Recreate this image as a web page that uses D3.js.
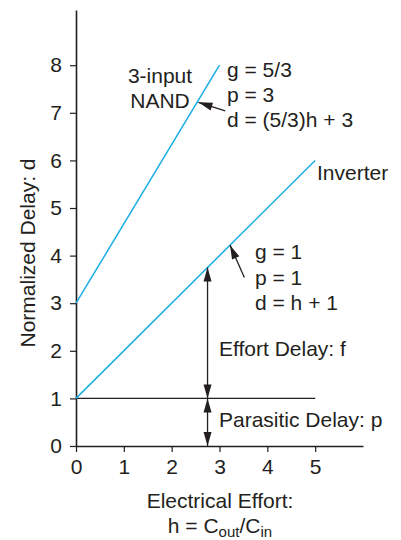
<!DOCTYPE html>
<html><head><meta charset="utf-8">
<script src="https://cdn.jsdelivr.net/npm/d3@7"></script>
<style>
html,body{margin:0;padding:0;background:#fff;}
svg{display:block;}
text{font-family:"Liberation Sans",Arial,Helvetica,sans-serif;fill:#231f20;}
</style></head>
<body>
<svg id="c" width="401" height="540"></svg>
<script>
// ---- data ----
const hTicks = [0, 1, 2, 3, 4, 5];
const dTicks = [0, 1, 2, 3, 4, 5, 6, 7, 8];
const nandH = [0, 3];
const nandD = [3, 8];
const invH = [0, 5];
const invD = [1, 6];
const parasiticH = [0, 5];
const parasiticD = [1, 1];
const arrowH = 2.75;          // where effort/parasitic arrows are drawn
const invG = 1, invP = 1;     // d = g*h + p
const nandLabels = ["g = 5/3", "p = 3", "d = (5/3)h + 3"];
const invLabels = ["g = 1", "p = 1", "d = h + 1"];

const svg = d3.select("#c");
const x = d3.scaleLinear().domain([0, 6]).range([76, 363]);
const y = d3.scaleLinear().domain([0, 9.16]).range([446, 10]);
const FS = 21;
const ink = "#231f20";
const blue = "#1aaee6";

// arrow marker
const defs = svg.append("defs");
defs.append("marker").attr("id", "ah").attr("viewBox", "-15 -5 16 10")
  .attr("refX", 0).attr("refY", 0).attr("markerWidth", 16).attr("markerHeight", 10)
  .attr("markerUnits", "userSpaceOnUse").attr("orient", "auto-start-reverse")
  .append("path").attr("d", "M0,0 L-14,-4 L-14,4 Z").attr("fill", ink);

// axes
const xAxis = d3.axisBottom(x).tickValues(hTicks).tickFormat(d3.format("d"))
  .tickSize(6).tickPadding(7).tickSizeOuter(0);
const yAxis = d3.axisLeft(y).tickValues(dTicks).tickFormat(d3.format("d"))
  .tickSize(6).tickPadding(8).tickSizeOuter(0);
const gx = svg.append("g").attr("transform", `translate(0,${y(0)})`).call(xAxis);
const gy = svg.append("g").attr("transform", `translate(${x(0)},0)`).call(yAxis);
[gx, gy].forEach(g => {
  g.select(".domain").attr("stroke", ink).attr("stroke-width", 1.6);
  g.selectAll(".tick line").attr("stroke", ink).attr("stroke-width", 1.2);
  g.selectAll(".tick text").attr("font-size", FS).attr("fill", ink)
    .attr("font-family", '"Liberation Sans",Arial,sans-serif');
});

// lines
const line = d3.line().x(d => x(d[0])).y(d => y(d[1]));
svg.append("path").datum(d3.zip(parasiticH, parasiticD)).attr("d", line)
  .attr("stroke", ink).attr("stroke-width", 1.3).attr("fill", "none");
svg.append("path").datum(d3.zip(nandH, nandD)).attr("d", line)
  .attr("stroke", blue).attr("stroke-width", 1.5).attr("fill", "none");
svg.append("path").datum(d3.zip(invH, invD)).attr("d", line)
  .attr("stroke", blue).attr("stroke-width", 1.5).attr("fill", "none");

// double arrows
const arrowTop = invG * arrowH + invP;
function dbl(d0, d1) {
  svg.append("line").attr("x1", x(arrowH)).attr("x2", x(arrowH))
    .attr("y1", y(d0)).attr("y2", y(d1))
    .attr("stroke", ink).attr("stroke-width", 1.3)
    .attr("marker-start", "url(#ah)").attr("marker-end", "url(#ah)");
}
dbl(1, arrowTop);
dbl(0, 1);

// pointer arrows
function ptr(h0, d0, h1, d1) {
  svg.append("line").attr("x1", x(h0)).attr("y1", y(d0)).attr("x2", x(h1)).attr("y2", y(d1))
    .attr("stroke", ink).attr("stroke-width", 1.3).attr("marker-end", "url(#ah)");
}
ptr(3.12, 7.04, 2.56, 7.22);
ptr(3.52, 3.54, 3.22, 4.22);

// text
function txt(str, px, py, anchor) {
  return svg.append("text").attr("x", px).attr("y", py).attr("font-size", FS)
    .attr("text-anchor", anchor || "start").text(str);
}
txt("3-input", 160, 83, "middle");
txt("NAND", 160, 108, "middle");
nandLabels.forEach((s, i) => txt(s, 227, 77 + i * 25));
txt("Inverter", 317, 180);
invLabels.forEach((s, i) => txt(s, 255, 259 + i * 25.5));
txt("Effort Delay: f", 219, 356);
txt("Parasitic Delay: p", 219, 427);

// axis titles
txt("Electrical Effort:", 220, 508, "middle");
const t2 = svg.append("text").attr("x", 220).attr("y", 533).attr("font-size", FS).attr("text-anchor", "middle");
t2.append("tspan").text("h = C");
t2.append("tspan").attr("dy", 4).attr("font-size", 15).text("out");
t2.append("tspan").attr("dy", -4).text("/C");
t2.append("tspan").attr("dy", 4).attr("font-size", 15).text("in");

svg.append("text").attr("transform", "translate(35,253) rotate(-90)")
  .attr("font-size", FS).attr("text-anchor", "middle").text("Normalized Delay: d");
</script>
</body></html>
